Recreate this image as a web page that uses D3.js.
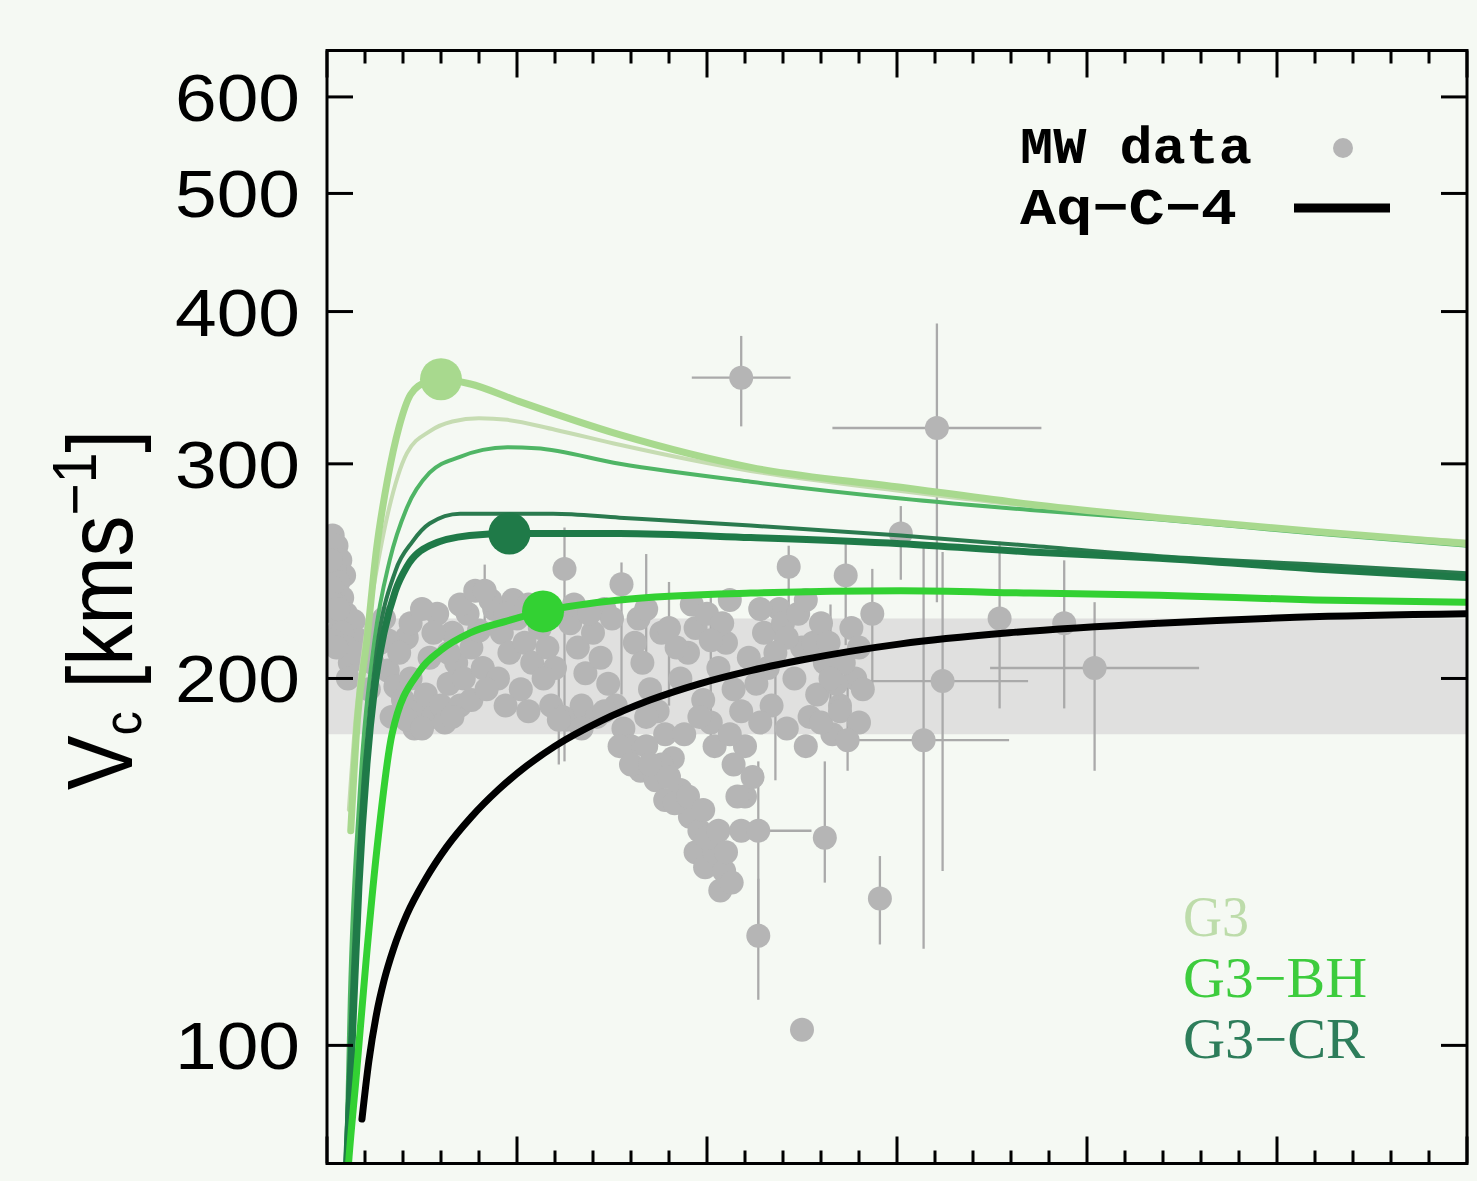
<!DOCTYPE html>
<html>
<head>
<meta charset="utf-8">
<script src="https://cdn.jsdelivr.net/npm/d3@7"></script>
<style>
  html, body { margin: 0; padding: 0; background: #f5f9f3; }
  svg { display: block; }
</style>
</head>
<body>
<svg id="chart" width="1477" height="1181"></svg>
<script>
// ---------------- data ----------------
// axis ticks
const yTickValues = [100, 200, 300, 400, 500, 600];
const yTickLabels = ["100", "200", "300", "400", "500", "600"];
const xMajorTicks = [0, 10, 20, 30, 40, 50, 60];
const xMinorTicks = [2, 4, 6, 8, 12, 14, 16, 18, 22, 24, 26, 28, 32, 34, 36, 38, 42, 44, 46, 48, 52, 54, 56, 58];

// observational band of the circular velocity (km/s)
const bandLow = 180, bandHigh = 224;

// Aq-C-4 (dark matter only)
const aqR = [1.84, 2.2, 2.6, 3.0, 3.5, 4.2, 5.2, 6.3, 7.6, 9.0, 10.5, 12.0, 14.4, 17.0, 19.6, 22.3, 24.9, 30.2, 35.9, 43.8, 51.0, 60.0];
const aqV = [87, 97, 106, 113, 120, 128, 137, 145.5, 154, 162, 169.5, 176, 184.5, 192, 198, 203, 207, 213.5, 218, 222, 224.5, 226];

// G3 (thick) and its companion run (thin)
const g3R = [1.25, 1.6, 2.1, 2.6, 3.2, 3.8, 4.4, 5.2, 6.0, 7.5, 10.0, 15.4, 22.3, 30.2, 37.0, 43.8, 52.0, 60.0];
const g3V = [150, 185, 215, 255, 292, 322, 342, 350, 352, 349, 338, 317, 298, 287, 278, 271, 264, 258];
const g3bR = [1.15, 1.5, 2.0, 2.5, 3.2, 4.2, 5.4, 6.6, 8.0, 9.5, 12.0, 15.4, 22.3, 30.2, 37.0, 43.8, 52.0, 60.0];
const g3bV = [156, 185, 215, 240, 273, 306, 319, 325, 327, 326, 320, 311, 296, 285, 277, 271, 264, 259];

// G3-BH (thick) and its companion run (thin)
const bhR = [1.0, 1.16, 1.53, 2.05, 2.63, 3.42, 4.89, 6.0, 7.53, 9.5, 11.37, 15.4, 22.3, 30.2, 37.0, 43.8, 52.0, 60.0];
const bhV = [75, 81, 94, 117, 145, 180, 203, 211, 218, 223, 227, 232, 235, 236, 235, 234, 232, 231];
const bhbR = [1.0, 1.2, 1.7, 2.5, 3.3, 4.2, 5.4, 7.0, 8.2, 9.5, 11.0, 15.4, 22.3, 30.2, 37.0, 43.8, 52.0, 60.0];
const bhbV = [80, 109, 159, 215, 250, 276, 295, 304, 308, 309.5, 309, 300, 290, 281, 275, 270, 263, 257];

// G3-CR (thick) and its companion run (thin)
const crR = [1.0, 1.32, 1.68, 2.1, 2.5, 3.0, 3.6, 4.2, 5.4, 7.5, 9.6, 15.4, 22.3, 30.2, 37.0, 43.8, 52.0, 60.0];
const crV = [78, 100, 135, 170, 196, 218, 236, 247, 257, 262, 263, 263, 261, 258, 254, 251, 246, 242];
const crbR = [0.95, 1.3, 1.85, 2.6, 3.6, 4.5, 5.4, 7.0, 11.9, 15.4, 22.3, 30.2, 37.0, 43.8, 52.0, 60.0];
const crbV = [78, 109, 159, 210, 245, 259, 268, 273, 273, 271, 267, 262, 257, 252, 248, 244];

// marked points on the model curves
const dotR = [6.0, 9.6, 11.37];
const dotV = [352, 263, 227];

// MW data without visible error bars
const mwR = [
  // inner few kpc
  0.3, 0.5, 0.7, 0.9, 0.4, 0.6, 0.8, 1.0, 1.2, 0.3, 0.5, 0.7, 1.4, 1.7, 2.0,
  0.2, 0.2, 0.4, 0.6, 0.8, 1.0, 1.2, 1.5, 0.3, 0.5, 1.1,
  // 2 - 8 kpc
  2.4, 2.8, 3.2, 3.6, 4.0, 4.4, 4.8, 5.2, 5.6, 6.0, 6.4, 6.8, 7.2, 7.6, 8.0, 3.0, 4.2, 5.4, 6.6, 7.4, 5.8, 2.2, 3.4, 4.6, 6.2, 7.0,
  2.6, 3.2, 3.8, 4.4, 5.0, 5.6, 6.4, 7.0, 7.8, 4.2, 5.0, 6.6, 7.6, 8.2,
  // 8 - 18 kpc
  8.8, 9.2, 9.6, 10.0, 10.4, 10.8, 11.2, 11.6, 12.0, 12.8, 13.2, 13.6, 9.0, 10.2, 11.0, 13.0, 14.0, 14.4, 14.8, 15.2, 15.6, 14.6, 16.0, 15.0, 16.2, 16.6, 17.0, 17.4, 17.8, 18.2, 9.8, 11.4, 12.6, 13.4, 14.2,
  8.6, 9.4, 10.6, 11.8, 13.8, 16.4, 17.6, 8.4, 9.4, 10.6, 11.8, 12.4, 13.4, 14.6, 15.4, 16.8, 17.6,
  // descending tail near 16 - 22 kpc
  16.5, 17.3, 17.8, 18.6, 19.1, 19.6, 19.4, 19.9, 20.4, 20.9, 20.7, 21.3,
  16.0, 16.8, 17.0, 18.0, 18.3, 19.0, 19.8, 20.0, 20.6, 21.0, 21.8, 21.4, 22.0,
  // 18 - 29 kpc
  18.6, 19.0, 19.4, 19.8, 20.2, 20.6, 21.0, 21.4, 21.8, 22.2, 22.6, 23.0, 23.4, 23.8, 24.6, 25.0, 25.4, 25.8, 26.2, 26.6, 27.0, 27.8, 22.0, 22.4, 21.6, 24.0, 25.6, 26.8,
  18.4, 19.2, 20.0, 20.8, 21.2, 22.8, 23.2, 24.2, 24.8, 25.2, 26.0, 26.4, 27.2, 27.6, 28.0, 28.2, 18.8, 19.6, 20.4, 21.2, 22.8, 24.2, 25.2, 26.0, 27.0, 28.0,
  25.0];
const mwV = [
  262, 257, 250, 243, 247, 240, 233, 226, 219, 234, 226, 220, 223, 215, 210,
  250, 238, 230, 228, 218, 212, 206, 210, 215, 212, 200,
  206, 214, 203, 197, 192, 200, 188, 194, 186, 190, 198, 206, 200, 212, 219, 224, 216, 208, 218, 226, 226, 196, 186, 182, 184, 190,
  220, 215, 210, 222, 228, 218, 210, 230, 236, 185, 182, 186, 192, 204,
  228, 218, 210, 224, 214, 206, 220, 212, 204, 222, 212, 202, 200, 196, 230, 230, 218, 208, 198, 190, 182, 228, 176, 224, 214, 206, 196, 188, 180, 172, 232, 200, 185, 190, 186,
  232, 226, 230, 226, 226, 224, 218, 196, 190, 188, 190, 186, 182, 188, 176, 186, 170,
  168, 165, 159, 162, 154, 150, 144, 140, 144, 139, 134, 136,
  170, 176, 170, 166, 158, 160, 156, 148, 150, 144, 150, 170, 160,
  200, 210, 220, 192, 184, 204, 214, 196, 188, 208, 198, 218, 190, 228, 200, 212, 186, 194, 206, 180, 190, 200, 176, 166, 160, 222, 214, 198,
  212, 230, 226, 222, 232, 228, 204, 216, 226, 232, 222, 214, 206, 220, 212, 196, 180, 186, 176, 180, 184, 182, 176, 184, 188, 184,
  103];

// MW data with error bars: radius, velocity, radial error, lower / upper velocity error
const mwErrR   = [21.8, 32.1, 30.2, 31.4, 32.4, 40.4, 29.1, 22.7, 22.7, 26.2, 27.4, 28.7, 35.4, 38.8, 12.5, 15.5, 8.3, 24.3, 27.3, 12.2, 18.0, 20.2, 16.8, 23.6, 26.5];
const mwErrV   = [353, 321, 263, 178, 199, 204, 132, 123, 150, 148, 178, 226, 224, 222, 246, 239, 236, 247, 243, 185, 220, 215, 228, 210, 200];
const mwErrDR  = [2.6, 5.5, 0, 4.5, 4.5, 5.5, 0, 0, 2.8, 0.6, 0, 0, 0, 0, 0, 0, 0, 0, 0, 0, 0, 0, 0, 0, 0];
const mwErrVlo = [31, 90, 22, 58, 60, 36, 11, 14, 28, 12, 10, 30, 35, 33, 75, 45, 20, 25, 30, 15, 30, 40, 25, 45, 20];
const mwErrVhi = [29, 70, 14, 80, 55, 27, 11, 14, 21, 23, 20, 20, 35, 28, 20, 10, 12, 10, 15, 20, 20, 20, 25, 15, 30];

// legends
const legendTop = ["MW data", "Aq\u2212C\u22124"];
const modelNames = ["G3", "G3\u2212BH", "G3\u2212CR"];
const modelColors = ["#bddcaa", "#3dcc3d", "#2d7d5a"];

// ---------------- drawing ----------------
const svg = d3.select("#chart");
const pLeft = 327, pRight = 1467, pTop = 50.5, pBottom = 1163.5;

const x = d3.scaleLinear().domain([0, 60]).range([pLeft, pRight]);
const y = d3.scaleLog().domain([80, 655]).range([pBottom, pTop]);

svg.append("defs").append("clipPath").attr("id", "plotclip")
  .append("rect").attr("x", pLeft).attr("y", pTop).attr("width", pRight - pLeft).attr("height", pBottom - pTop);

const plot = svg.append("g").attr("clip-path", "url(#plotclip)");

// band
plot.append("rect")
  .attr("x", pLeft).attr("width", pRight - pLeft)
  .attr("y", y(bandHigh)).attr("height", y(bandLow) - y(bandHigh))
  .attr("fill", "#e0e0df");

// error bars
const errG = plot.append("g").attr("stroke", "#aaaaaa").attr("stroke-width", 2.3);
mwErrR.forEach((r, i) => {
  const v = mwErrV[i];
  if (mwErrVlo[i] > 0 || mwErrVhi[i] > 0) {
    errG.append("line").attr("x1", x(r)).attr("x2", x(r))
      .attr("y1", y(v + mwErrVhi[i])).attr("y2", y(v - mwErrVlo[i]));
  }
  if (mwErrDR[i] > 0) {
    errG.append("line").attr("y1", y(v)).attr("y2", y(v))
      .attr("x1", x(r - mwErrDR[i])).attr("x2", x(r + mwErrDR[i]));
  }
});

// data points
const ptG = plot.append("g").attr("fill", "#b5b5b5");
mwR.forEach((r, i) => ptG.append("circle").attr("cx", x(r)).attr("cy", y(mwV[i])).attr("r", 12));
mwErrR.forEach((r, i) => ptG.append("circle").attr("cx", x(r)).attr("cy", y(mwErrV[i])).attr("r", 12));

// model curves
const line = d3.line().x(d => x(d[0])).y(d => y(d[1])).curve(d3.curveMonotoneX);
const zip = (a, b) => a.map((v, i) => [v, b[i]]);

const curves = [
  { r: g3bR, v: g3bV, color: "#c6dcb2", w: 4 },
  { r: bhbR, v: bhbV, color: "#4fb565", w: 4 },
  { r: crbR, v: crbV, color: "#2a7a4e", w: 4 },
  { r: g3R,  v: g3V,  color: "#a8d98e", w: 7 },
  { r: crR,  v: crV,  color: "#1f7a48", w: 7 },
  { r: bhR,  v: bhV,  color: "#33d133", w: 7 },
  { r: aqR,  v: aqV,  color: "#000000", w: 7 }
];
curves.forEach(c => {
  plot.append("path").datum(zip(c.r, c.v))
    .attr("d", line).attr("fill", "none")
    .attr("stroke", c.color).attr("stroke-width", c.w)
    .attr("stroke-linejoin", "round").attr("stroke-linecap", "round");
});

const dotColors = ["#a8d98e", "#1f7a48", "#33d133"];
dotR.forEach((r, i) => {
  plot.append("circle").attr("cx", x(r)).attr("cy", y(dotV[i])).attr("r", 21).attr("fill", dotColors[i]);
});

// frame and ticks
const axG = svg.append("g").attr("stroke", "#000").attr("stroke-width", 3);
axG.append("rect").attr("x", pLeft).attr("y", pTop).attr("width", pRight - pLeft).attr("height", pBottom - pTop).attr("fill", "none");
xMajorTicks.forEach(t => {
  axG.append("line").attr("x1", x(t)).attr("x2", x(t)).attr("y1", pTop).attr("y2", pTop + 27);
  axG.append("line").attr("x1", x(t)).attr("x2", x(t)).attr("y1", pBottom).attr("y2", pBottom - 27);
});
xMinorTicks.forEach(t => {
  axG.append("line").attr("x1", x(t)).attr("x2", x(t)).attr("y1", pTop).attr("y2", pTop + 13);
  axG.append("line").attr("x1", x(t)).attr("x2", x(t)).attr("y1", pBottom).attr("y2", pBottom - 13);
});
yTickValues.forEach(t => {
  axG.append("line").attr("x1", pLeft).attr("x2", pLeft + 26).attr("y1", y(t)).attr("y2", y(t));
  axG.append("line").attr("x1", pRight).attr("x2", pRight - 26).attr("y1", y(t)).attr("y2", y(t));
});

// y tick labels
yTickValues.forEach((t, i) => {
  svg.append("text").attr("x", 175).attr("y", y(t) + 24)
    .attr("font-family", "Liberation Sans, Arial, sans-serif").attr("font-size", 67)
    .attr("textLength", 125).attr("lengthAdjust", "spacingAndGlyphs")
    .attr("fill", "#000").text(yTickLabels[i]);
});

// y axis title
const yt = svg.append("text")
  .attr("transform", "translate(132,610) scale(1.13,1) rotate(-90)")
  .attr("text-anchor", "middle")
  .attr("font-family", "Liberation Sans, Arial, sans-serif").attr("font-size", 82).attr("fill", "#000");
yt.append("tspan").text("V");
yt.append("tspan").attr("font-size", 48).attr("dy", 8).text("c");
yt.append("tspan").attr("dy", -8).text(" [kms");
yt.append("tspan").attr("font-size", 55).attr("dy", -32).text("\u22121");
yt.append("tspan").attr("dy", 32).text("]");

// top-right legend
const legFont = "Liberation Mono, Courier New, monospace";
svg.append("text").attr("x", 1020).attr("y", 163).attr("font-family", legFont).attr("font-weight", "bold")
  .attr("font-size", 52).attr("textLength", 232).attr("lengthAdjust", "spacingAndGlyphs").text(legendTop[0]);
svg.append("text").attr("x", 1020).attr("y", 224).attr("font-family", legFont).attr("font-weight", "bold")
  .attr("font-size", 52).attr("textLength", 217).attr("lengthAdjust", "spacingAndGlyphs").text(legendTop[1]);
svg.append("circle").attr("cx", 1343).attr("cy", 148).attr("r", 10).attr("fill", "#b5b5b5");
svg.append("line").attr("x1", 1294).attr("x2", 1390).attr("y1", 208).attr("y2", 208)
  .attr("stroke", "#000").attr("stroke-width", 9);

// model legend
const modelBase = [936, 997, 1058];
const modelWidth = [66, 184, 182];
modelNames.forEach((n, i) => {
  svg.append("text").attr("x", 1183).attr("y", modelBase[i])
    .attr("font-family", "Liberation Serif, Times New Roman, serif").attr("font-size", 56)
    .attr("textLength", modelWidth[i]).attr("lengthAdjust", "spacingAndGlyphs")
    .attr("fill", modelColors[i]).text(n);
});
</script>
</body>
</html>
